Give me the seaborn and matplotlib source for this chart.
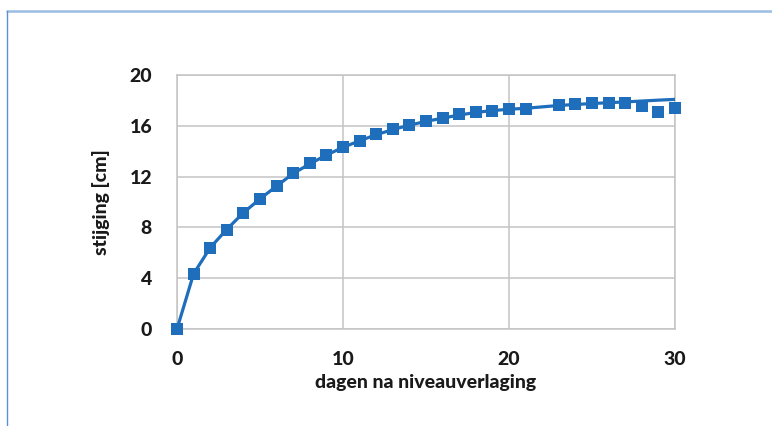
import matplotlib
matplotlib.use("Agg")
import matplotlib.pyplot as plt
from matplotlib.lines import Line2D
import seaborn as sns
import pandas as pd

# measured data (days after level lowering, rise in cm)
days = [0, 1, 2, 3, 4, 5, 6, 7, 8, 9, 10, 11, 12, 13, 14, 15, 16, 17, 18, 19, 20, 21,
        23, 24, 25, 26, 27, 28, 29, 30]
rise = [0.0, 4.35, 6.4, 7.8, 9.17, 10.25, 11.25, 12.3, 13.05, 13.72, 14.33, 14.8, 15.35, 15.73,
        16.05, 16.35, 16.58, 16.9, 17.05, 17.18, 17.3, 17.3,
        17.64, 17.72, 17.77, 17.77, 17.77, 17.56, 17.12, 17.42]
# trend line values
trend = [0.0, 4.35, 6.4, 7.85, 9.15, 10.25, 11.25, 12.25, 13.0, 13.7, 14.3, 14.82, 15.3, 15.7,
         16.05, 16.35, 16.6, 16.85, 17.05, 17.2, 17.3, 17.38,
         17.6, 17.68, 17.75, 17.82, 17.88, 17.95, 18.02, 18.08]

x_ticks = [0, 10, 20, 30]
y_ticks = [0, 4, 8, 12, 16, 20]

sns.set_theme(style="white")
plt.rcParams['font.family'] = ['Lato', 'DejaVu Sans']

df = pd.DataFrame({"dagen": days, "stijging": rise, "trend": trend})

fig = plt.figure(figsize=(7.72, 4.26), dpi=100)
ax = fig.add_axes([177/772, 1-329/426, (675-177)/772, (329-75)/426])

blue = "#1F6EBB"
sns.lineplot(data=df, x="dagen", y="trend", ax=ax, color=blue, linewidth=2.3, zorder=3)
sns.scatterplot(data=df, x="dagen", y="stijging", ax=ax, color=blue, marker="s",
                s=75, edgecolor=blue, linewidth=0, zorder=4, clip_on=False)

ax.set_xlim(0, 30)
ax.set_ylim(0, 20)
ax.set_xticks(x_ticks)
ax.set_yticks(y_ticks)
ax.grid(True, color="#c4c4c4", linewidth=1.1)
ax.set_axisbelow(True)
for sp in ax.spines.values():
    sp.set_color("#c4c4c4")
    sp.set_linewidth(1.1)
ax.tick_params(axis="both", length=0, labelsize=14, colors="#1a1a1a")
ax.tick_params(axis="x", pad=16)
ax.tick_params(axis="y", pad=18)
for lbl in ax.get_xticklabels() + ax.get_yticklabels():
    lbl.set_fontweight(900)
ax.set_xlabel("dagen na niveauverlaging", fontsize=14, fontweight=900, color="#1a1a1a", labelpad=4)
ax.set_ylabel("stijging [cm]", fontsize=14, fontweight=900, color="#1a1a1a", labelpad=14)

# light blue frame lines at top and left of the figure
fig.add_artist(Line2D([7/772, 1], [1-11/426, 1-11/426], transform=fig.transFigure,
                      color="#9bbce3", linewidth=1.8))
fig.add_artist(Line2D([7/772, 7/772], [0, 1-11/426], transform=fig.transFigure,
                      color="#5b8fd6", linewidth=1.0))

fig.savefig("out.png", dpi=100)
